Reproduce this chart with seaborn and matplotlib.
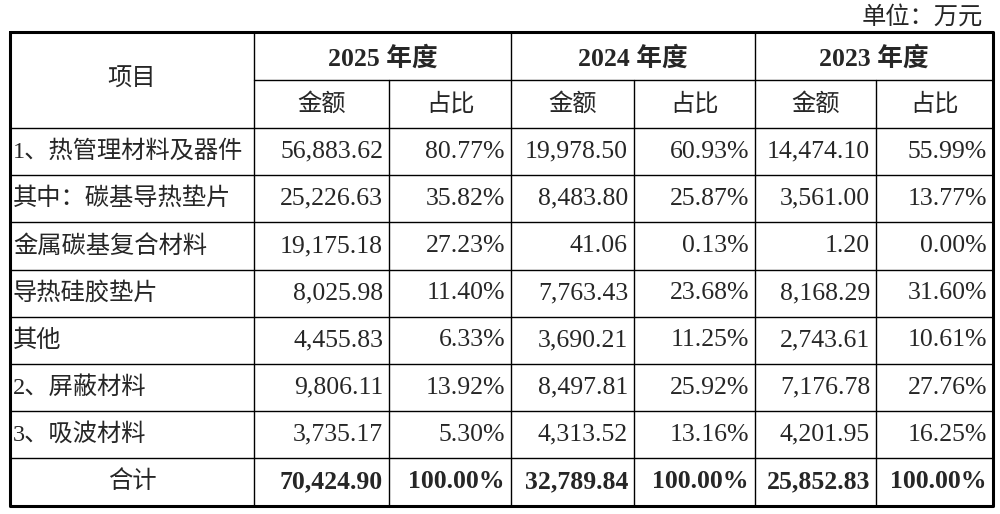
import matplotlib
matplotlib.use("Agg")
import matplotlib.pyplot as plt
import seaborn as sns

sns.set_theme(style="white")
plt.rcParams['font.family'] = ['Liberation Serif', 'Noto Sans CJK SC']

unit_label = "单位：万元"
years = ["2025 年度", "2024 年度", "2023 年度"]
sub_headers = ["金额", "占比"]
items = ["1、热管理材料及器件", "其中：碳基导热垫片", "金属碳基复合材料", "导热硅胶垫片",
         "其他", "2、屏蔽材料", "3、吸波材料", "合计"]
amount_2025 = ["56,883.62", "25,226.63", "19,175.18", "8,025.98", "4,455.83", "9,806.11", "3,735.17", "70,424.90"]
share_2025 = ["80.77%", "35.82%", "27.23%", "11.40%", "6.33%", "13.92%", "5.30%", "100.00%"]
amount_2024 = ["19,978.50", "8,483.80", "41.06", "7,763.43", "3,690.21", "8,497.81", "4,313.52", "32,789.84"]
share_2024 = ["60.93%", "25.87%", "0.13%", "23.68%", "11.25%", "25.92%", "13.16%", "100.00%"]
amount_2023 = ["14,474.10", "3,561.00", "1.20", "8,168.29", "2,743.61", "7,176.78", "4,201.95", "25,852.83"]
share_2023 = ["55.99%", "13.77%", "0.00%", "31.60%", "10.61%", "27.76%", "16.25%", "100.00%"]

value_cols = [amount_2025, share_2025, amount_2024, share_2024, amount_2023, share_2023]

# 表格布局（像素坐标）
col_x = [10, 254, 389, 511, 634, 755, 876, 993]
top, h1, h2 = 32, 80, 128
row_h = 47.2
row_y = [h2 + i * row_h for i in range(len(items) + 1)]
fs = 17.5
fs_num = 18.5

fig = plt.figure(figsize=(10, 5.14), dpi=100)
ax = fig.add_axes([0, 0, 1, 1])
ax.set_xlim(0, 1000)
ax.set_ylim(514, 0)
ax.axis("off")

# 外框
bottom = row_y[-1]
ax.plot([col_x[0], col_x[-1], col_x[-1], col_x[0], col_x[0]],
        [top, top, bottom, bottom, top], color="black", lw=2.2)
# 横线
ax.plot([col_x[1], col_x[-1]], [h1, h1], color="black", lw=1)
for y in row_y[:-1]:
    ax.plot([col_x[0], col_x[-1]], [y, y], color="black", lw=1)
# 竖线
for i, x in enumerate(col_x[1:-1], start=1):
    y0 = top if i % 2 == 1 else h1
    ax.plot([x, x], [y0, bottom], color="black", lw=1)

ax.text(983, 17, unit_label, ha="right", va="center", fontsize=fs)
ax.text((col_x[0] + col_x[1]) / 2, (top + h2) / 2, "项目", ha="center", va="center", fontsize=fs)
for j, yr in enumerate(years):
    xc = (col_x[1 + 2 * j] + col_x[3 + 2 * j]) / 2
    ax.text(xc, (top + h1) / 2 + 2, yr, ha="center", va="center", fontsize=fs_num, fontweight="bold")
    for k, sh in enumerate(sub_headers):
        c = 1 + 2 * j + k
        ax.text((col_x[c] + col_x[c + 1]) / 2, (h1 + h2) / 2, sh, ha="center", va="center", fontsize=fs)

for i, name in enumerate(items):
    yc = (row_y[i] + row_y[i + 1]) / 2
    last = i == len(items) - 1
    if last:
        ax.text((col_x[0] + col_x[1]) / 2, yc, name, ha="center", va="center", fontsize=fs)
    else:
        ax.text(col_x[0] + 3, yc, name, ha="left", va="center", fontsize=fs)
    for c, col in enumerate(value_cols, start=1):
        ax.text(col_x[c + 1] - 6, yc, col[i], ha="right", va="center", fontsize=fs_num,
                fontweight="bold" if last else "normal")

fig.savefig("out.png", dpi=100)
